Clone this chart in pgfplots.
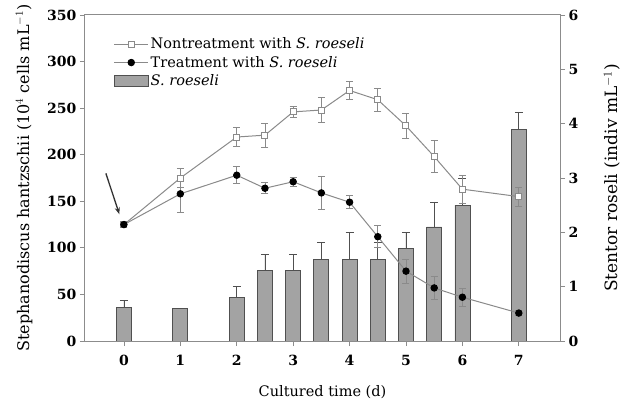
\documentclass[border=0pt]{standalone}
\usepackage{pgfplots}
\pgfplotsset{compat=1.18}
\usepackage{pgfplotstable}
\usepackage{fontspec}
\setmainfont{DejaVu Serif}
\usetikzlibrary{arrows.meta}

\pgfplotstableread{
t n nerr tr trerr
0   125 3  125 3
1   175 10 158 20
2   219 10 178 9
2.5 221 13 164 6
3   246 6  171 5
3.5 248 13 159 18
4   269 10 149 7
4.5 259 12 112 12
5   231 13 75  13
5.5 198 17 57  12
6   163 15 47  10
7   155 10 30  3
}\lines

\pgfplotstableread{
t s serr
0   0.62 0.12
1   0.60 0
2   0.80 0.20
2.5 1.30 0.30
3   1.30 0.30
3.5 1.50 0.32
4   1.50 0.50
4.5 1.50 0.32
5   1.70 0.30
5.5 2.10 0.46
6   2.50 0.50
7   3.90 0.30
}\bars

\definecolor{framegray}{HTML}{8C8C8C}
\definecolor{linegray}{HTML}{8A8A8A}
\definecolor{barfill}{HTML}{A3A3A3}
\definecolor{bardraw}{HTML}{505050}

\pgfplotsset{
  common/.style={
    width=475pt, height=326pt, scale only axis,
    xmin=-0.69, xmax=7.73,
    tick align=outside,
    major tick length=5pt,
    axis line style={framegray, line width=1pt},
    tick style={framegray, line width=0.8pt},
    /pgf/number format/assume math mode=true,
    ticklabel style={font=\fontsize{14}{16}\selectfont\bfseries},
  }
}

\begin{document}
\begin{tikzpicture}
\useasboundingbox (-85pt,-61pt) rectangle (546pt,341pt);

% bars, right axis
\begin{axis}[common,
  axis x line=none,
  axis y line*=right,
  ymin=0, ymax=6, ytick={0,1,2,3,4,5,6},
  ylabel={Stentor roseli (indiv mL$^{-1}$)},
  ylabel style={at={(rel axis cs:1.11,0.5)}, anchor=center, font=\fontsize{17}{19}\selectfont},
]
\addplot[ybar, bar width=15pt, fill=barfill, draw=bardraw, line width=0.8pt,
  error bars/.cd, y dir=plus, y explicit,
  error bar style={bardraw, line width=0.8pt},
  error mark options={rotate=90, mark size=4pt, bardraw, line width=0.8pt}]
  table[x=t, y=s, y error=serr] {\bars};
\end{axis}

% lines, left axis
\begin{axis}[common,
  ymin=0, ymax=350, ytick={0,50,100,150,200,250,300,350},
  ytick pos=left, xtick pos=bottom,
  xtick={0,1,2,3,4,5,6,7},
  xticklabel style={yshift=-6pt},
  xlabel={Cultured time (d)},
  xlabel style={at={(rel axis cs:0.5,0)}, anchor=center, yshift=-51pt, font=\fontsize{14.5}{17}\selectfont},
  ylabel={Stephanodiscus hantzschii (10$^4$ cells mL$^{-1}$)},
  ylabel style={at={(rel axis cs:-0.128,0.5)}, anchor=center, font=\fontsize{16}{18}\selectfont},
  legend style={at={(rel axis cs:0.058,0.94)}, anchor=north west, draw=none, fill=none,
    font=\fontsize{14.5}{17}\selectfont, row sep=2pt, inner sep=1pt},
  legend cell align=left,
  legend image code/.code={\draw[mark repeat=2,mark phase=2,#1] plot coordinates {(0pt,0pt) (17pt,0pt) (34pt,0pt)};},
]
\addplot[linegray, line width=1pt, mark=square*, mark options={fill=white, draw=linegray, mark size=3pt},
  error bars/.cd, y dir=both, y explicit,
  error bar style={linegray, line width=0.8pt},
  error mark options={rotate=90, mark size=3.5pt, linegray, line width=0.8pt}]
  table[x=t, y=n, y error=nerr] {\lines};
\addlegendentry{Nontreatment with \textit{S. roeseli}}
\addplot[linegray, line width=1pt, mark=*, mark options={fill=black, draw=black, mark size=3.2pt},
  error bars/.cd, y dir=both, y explicit,
  error bar style={linegray, line width=0.8pt},
  error mark options={rotate=90, mark size=3.5pt, linegray, line width=0.8pt}]
  table[x=t, y=tr, y error=trerr] {\lines};
\addlegendentry{Treatment with \textit{S. roeseli}}
\addlegendimage{legend image code/.code={\draw[fill=barfill, draw=bardraw, line width=0.8pt] (0pt,-5.5pt) rectangle (34pt,5.5pt);}}
\addlegendentry{\textit{S. roeseli}}
\draw[-{Stealth[length=7pt,width=5pt]}, black!80, line width=1.3pt]
  (axis cs:-0.32,180) -- (axis cs:-0.08,136);
\end{axis}
\end{tikzpicture}
\end{document}
